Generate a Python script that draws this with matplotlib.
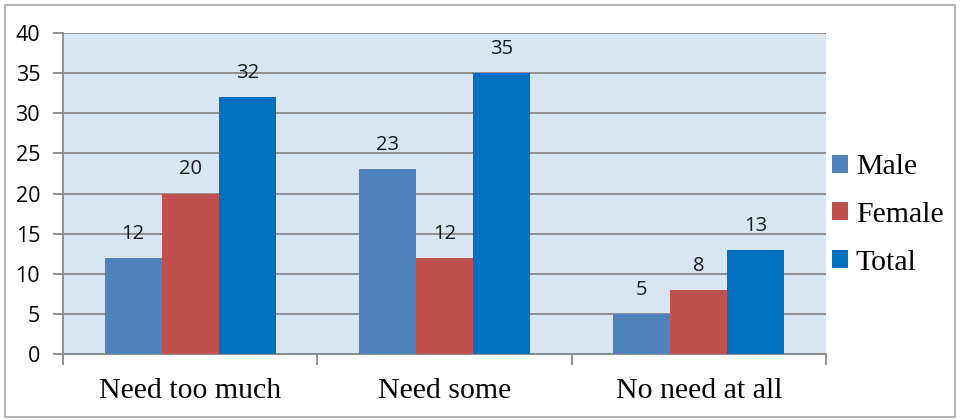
import matplotlib
matplotlib.use("Agg")
import matplotlib.pyplot as plt
import numpy as np
from matplotlib.patches import Rectangle

categories = ["Need too much", "Need some", "No need at all"]
series_names = ["Male", "Female", "Total"]
male = [12, 23, 5]
female = [20, 12, 8]
total = [32, 35, 13]
yticks = [0, 5, 10, 15, 20, 25, 30, 35, 40]

colors = ["#4F81BD", "#C0504D", "#0070C0"]

fig = plt.figure(figsize=(9.6, 4.2), dpi=100)
fig.patch.set_facecolor("white")
# outer frame
fig.add_artist(Rectangle((5/960, 3/420), 950/960, 412/420, transform=fig.transFigure,
                         fill=False, edgecolor="#A6A6A6", linewidth=1.2))

ax = fig.add_axes([63/960, 1 - 354/420, (826-63)/960, (354-33)/420])
ax.set_facecolor("#D8E6F3")

x = np.arange(len(categories))
w = 0.224
data = [male, female, total]
for i, (vals, c, name) in enumerate(zip(data, colors, series_names)):
    pos = x + (i - 1) * w
    ax.bar(pos, vals, width=w, color=c, label=name, zorder=3)
    for p, v in zip(pos, vals):
        ax.text(p, v + 3.0, str(v), ha="center", va="center", fontsize=14.5,
                family="Open Sans", color="#1a1a1a", zorder=4)

ax.set_xlim(-0.5, 2.5)
ax.set_ylim(0, 40)
ax.set_yticks(yticks)
ax.set_yticklabels([str(t) for t in yticks], family="Open Sans", fontsize=15.5)
ax.yaxis.grid(True, color="#888888", linewidth=1.3, zorder=1)
ax.set_axisbelow(True)

ax.set_xticks([-0.5, 0.5, 1.5, 2.5])
ax.set_xticklabels([])
ax.set_xticks(x, minor=True)
ax.set_xticklabels(categories, minor=True, family="Liberation Serif", fontsize=21.5)
ax.tick_params(axis="x", which="minor", length=0, pad=17)
ax.tick_params(axis="x", which="major", length=8, color="#888888", width=1.3)
ax.tick_params(axis="y", length=7.5, color="#888888", width=1.3, pad=9)

for s in ["top", "right"]:
    ax.spines[s].set_visible(False)
for s in ["left", "bottom"]:
    ax.spines[s].set_color("#888888")
    ax.spines[s].set_linewidth(1.3)

leg = fig.legend(loc="center left", bbox_to_anchor=(832/960, 1 - 215/420), frameon=False,
                 prop={"family": "Liberation Serif", "size": 21.5},
                 handlelength=0.55, handleheight=0.55, handletextpad=0.25, labelspacing=0.72,
                 borderaxespad=0, borderpad=0)

fig.savefig("out.png", dpi=100)
